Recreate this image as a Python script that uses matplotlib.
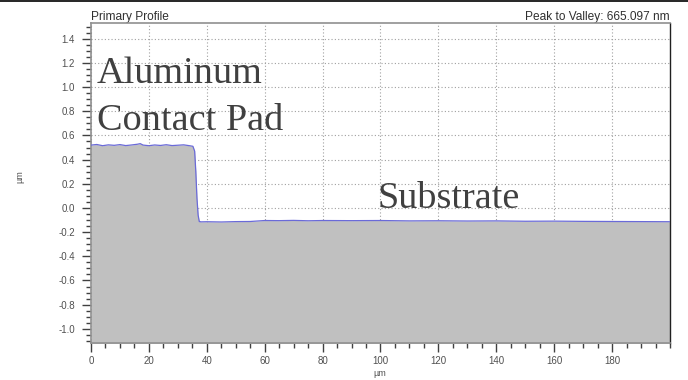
import numpy as np
import matplotlib.pyplot as plt
from matplotlib.ticker import MultipleLocator
from matplotlib.lines import Line2D

# profile (x in um, height in um)
profile_x = [0, 2, 4, 6, 8, 10, 12, 14, 16, 17, 18, 20, 22, 24, 26, 28, 30, 32, 34, 35.2,
             35.8, 36.2, 36.6, 37.0, 37.4, 38, 40, 45, 50, 55, 60, 65, 70, 75, 80, 90,
             100, 110, 120, 130, 140, 150, 160, 170, 180, 190, 200]
profile_z = [0.520, 0.525, 0.515, 0.522, 0.518, 0.524, 0.516, 0.521, 0.527, 0.532, 0.520, 0.515,
             0.521, 0.517, 0.523, 0.516, 0.519, 0.522, 0.515, 0.510,
             0.470, 0.300, 0.080, -0.060, -0.112, -0.115, -0.114, -0.116, -0.113, -0.112,
             -0.104, -0.105, -0.103, -0.106, -0.104, -0.105, -0.104, -0.107, -0.106, -0.108,
             -0.107, -0.110, -0.109, -0.111, -0.112, -0.113, -0.114]

title_left = "Primary Profile"
title_right = "Peak to Valley: 665.097 nm"
x_label = "µm"
y_label = "µm"
pad_lines = ["Aluminum", "Contact Pad"]
substrate_label = "Substrate"

plt.rcParams['font.family'] = ['Liberation Sans', 'DejaVu Sans']

fig = plt.figure(figsize=(6.88, 3.80), dpi=100)
ax = fig.add_axes([0.1323, 0.0974, 0.8415, 0.8421])

ax.fill_between(profile_x, profile_z, -2, color="#c0c0c0", lw=0, zorder=2)
ax.plot(profile_x, profile_z, color="#6a6ad8", lw=0.9, zorder=3)

ax.xaxis.set_minor_locator(MultipleLocator(5))
ax.yaxis.set_minor_locator(MultipleLocator(0.05))
ax.set_xticks([0, 20, 40, 60, 80, 100, 120, 140, 160, 180])
ax.set_xlim(0, 200)
ax.set_yticks(np.round(np.arange(-1.0, 1.41, 0.2), 1))
ax.set_ylim(-1.117, 1.53)
ax.yaxis.set_major_formatter(plt.FuncFormatter(lambda v, p: f"{abs(v) if abs(v) < 1e-9 else v:.1f}"))

ax.grid(True, which="major", color="#a0a0a0", ls=(0, (1, 2)), lw=0.8, zorder=1)
ax.tick_params(axis="both", which="major", direction="out", length=6.5, width=1,
               color="#404040", labelsize=7, labelcolor="#505050", pad=5)
ax.tick_params(axis="x", which="major", pad=3)
ax.tick_params(axis="both", which="minor", direction="out", length=3.5, width=1,
               color="#404040")
for s in ["left", "bottom", "top"]:
    ax.spines[s].set_color("#909090")
    ax.spines[s].set_linewidth(1.2)
ax.spines["right"].set_color("#202020")
ax.spines["right"].set_linewidth(1.0)
ax.spines["top"].set_zorder(4)

ax.set_title(title_left, loc="left", fontsize=8.6, color="#303030", pad=1)
ax.set_title(title_right, loc="right", fontsize=8.6, color="#303030", pad=1)
fig.text(380 / 688, 1 - 374 / 380, x_label, fontsize=6.5, color="#505050",
         ha="center", va="center")
fig.text(20 / 688, 1 - 177 / 380, y_label, rotation=90, fontsize=6.5, color="#505050",
         ha="center", va="center")

ax.text(2, 1.035, pad_lines[0], family="Liberation Serif", fontsize=27.5, color="#404040",
        va="baseline", ha="left", zorder=5)
ax.text(2, 0.646, pad_lines[1], family="Liberation Serif", fontsize=27.5, color="#404040",
        va="baseline", ha="left", zorder=5)
ax.text(99, 0.0, substrate_label, family="Liberation Serif", fontsize=27.5, color="#404040",
        va="baseline", ha="left", zorder=5)

fig.add_artist(Line2D([0, 1], [0.997, 0.997], transform=fig.transFigure, color="black", lw=1.2))

fig.savefig("out.png", dpi=100)
